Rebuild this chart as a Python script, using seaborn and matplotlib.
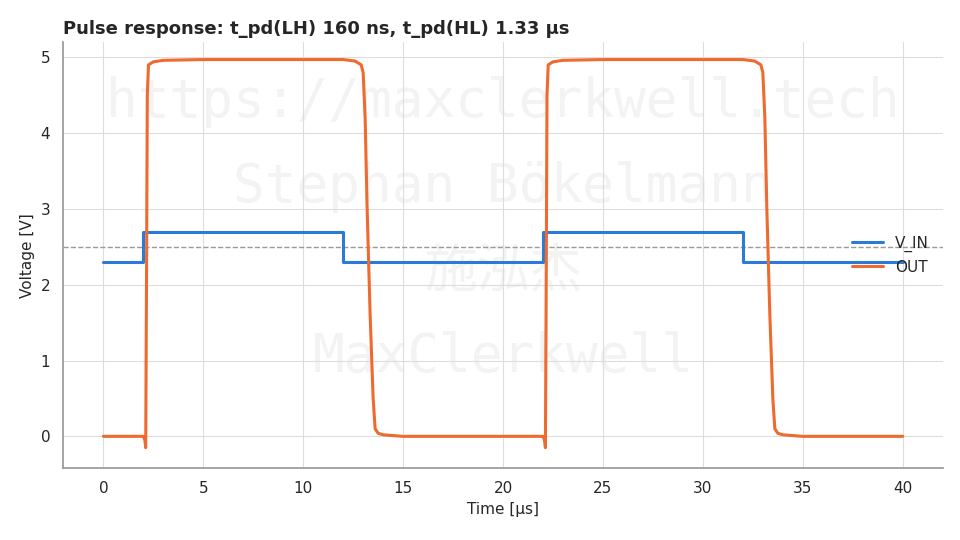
import matplotlib
matplotlib.use("Agg")
import matplotlib.pyplot as plt
import seaborn as sns
import pandas as pd

# input pulse: step points (time in us, volts)
vin_t = [0, 2, 2, 12, 12, 22, 22, 32, 32, 40]
vin_v = [2.3, 2.3, 2.7, 2.7, 2.3, 2.3, 2.7, 2.7, 2.3, 2.3]

# output response (one period, repeated with 20 us offset)
out_t1 = [0, 2.0, 2.08, 2.12, 2.16, 2.2, 2.26, 2.5, 3.0, 5, 10, 12.0, 12.6, 12.9, 13.0,
          13.1, 13.2, 13.35, 13.5, 13.6, 13.75, 14.0, 15, 20]
out_v1 = [0, 0, -0.05, -0.15, 2.0, 4.5, 4.9, 4.94, 4.96, 4.97, 4.97, 4.97, 4.95, 4.9, 4.8,
          4.2, 3.0, 1.6, 0.5, 0.1, 0.04, 0.02, 0.0, 0.0]
out_t = out_t1 + [t + 20 for t in out_t1[1:]]
out_v = out_v1 + out_v1[1:]

title = "Pulse response: t_pd(LH) 160 ns, t_pd(HL) 1.33 µs"
watermark = ["https://maxclerkwell.tech", "Stephan Bökelmann", "施泓杰", "MaxClerkwell"]

sns.set_theme(style="whitegrid")
plt.rcParams['font.family'] = ['DejaVu Sans', 'Noto Sans CJK SC']

fig, ax = plt.subplots(figsize=(9.6, 5.4), dpi=100)
fig.subplots_adjust(left=0.066, right=0.982, top=0.922, bottom=0.133)

df_in = pd.DataFrame({'t': vin_t, 'v': vin_v})
df_out = pd.DataFrame({'t': out_t, 'v': out_v})
sns.lineplot(data=df_in, x='t', y='v', ax=ax, color='#2a7ad8', lw=2.2, label='V_IN',
             sort=False, estimator=None)
sns.lineplot(data=df_out, x='t', y='v', ax=ax, color='#ee6a2f', lw=2.2, label='OUT',
             sort=False, estimator=None)
ax.axhline(2.5, color='#999999', lw=1, ls='--', zorder=1)

for i, s in enumerate(watermark):
    ax.text(0.5, 0.86 - i * 0.2, s, ha='center', va='center', fontsize=38,
            color='#f3f3f3', zorder=0.5, transform=ax.transAxes,
            family=['DejaVu Sans Mono', 'Noto Sans CJK SC'])

ax.set_xlim(-2, 42)
ax.set_ylim(-0.42, 5.2)
ax.set_xticks(range(0, 45, 5))
ax.set_xlabel('Time [µs]', fontsize=11)
ax.set_ylabel('Voltage [V]', fontsize=11)
ax.tick_params(labelsize=11)
ax.grid(color='#dddddd', lw=0.8)
for s in ['top', 'right']:
    ax.spines[s].set_visible(False)
for s in ['left', 'bottom']:
    ax.spines[s].set_color('#999999')
ax.set_title(title, loc='left', fontweight='bold', fontsize=13)
ax.legend(loc='center right', frameon=False, fontsize=11, bbox_to_anchor=(1.0, 0.5))
fig.savefig('out.png')
